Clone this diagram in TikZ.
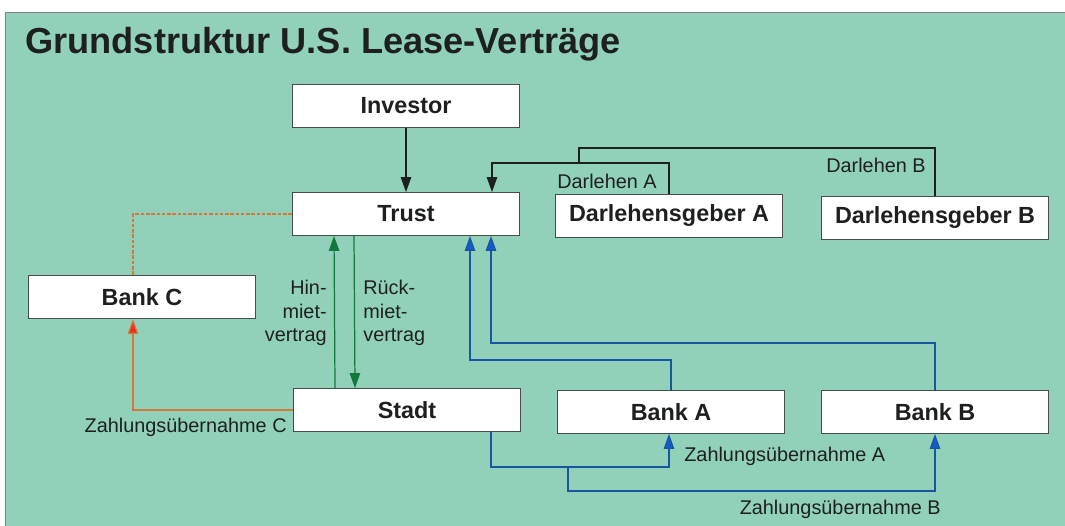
\documentclass[tikz,border=0pt]{standalone}
\usepackage{fontspec}
\setmainfont{Liberation Sans}
\usepackage{xcolor}
\usetikzlibrary{arrows.meta}
\usetikzlibrary{positioning}
\tikzset{>={Triangle[length=3mm,width=2.1mm]}}

\definecolor{panel}{RGB}{146,209,185}
\definecolor{ink}{RGB}{30,32,32}
\definecolor{frame}{RGB}{70,75,75}
\definecolor{leaseorange}{RGB}{214,120,60}
\definecolor{leasered}{RGB}{232,50,30}
\definecolor{leasegreen}{RGB}{20,120,62}
\definecolor{leaseblue}{RGB}{25,85,160}
\definecolor{tipblue}{RGB}{20,90,200}

\begin{document}
\begin{tikzpicture}[
	x=0.02cm, y=-0.02cm,
	box/.style = {
		rectangle, draw=frame, fill=white, line width=0.8pt,
		minimum width=4.54cm, minimum height=0.85cm,
		font=\fontsize{13.3}{15}\selectfont\bfseries, text=ink
	},
	note/.style = {
		font=\fontsize{11.3}{13.4}\selectfont, text=ink, inner sep=0pt
	},
	loan/.style = {draw=ink, line width=0.6pt},
	lease/.style = {draw=leasegreen, line width=0.7pt},
	pay/.style = {draw=leaseblue, line width=0.7pt,
		-{Triangle[length=3mm,width=2.1mm,fill=tipblue]}},
	cover/.style = {draw=leaseorange, line width=0.7pt}
]
	\fill[white] (0, 0) rectangle (1065, 526);
	\useasboundingbox (0, 0) rectangle (1065, 526);
	\fill[panel] (5, 12) rectangle (1065, 526);
	\draw[frame!70, line width=0.5pt] (5, 526) -- (5, 12) -- (1065, 12);
	\node[anchor=base west, inner sep=0pt, text=ink,
		font=\fontsize{20.6}{24}\selectfont\bfseries] (title) at (25, 54)
		{Grundstruktur U.S. Lease-Verträge};
	% Boxes
	\node[box] (investor) at (406, 106) {Investor};
	\node[box] (trust) at (406, 214) {Trust};
	\node[box] (dga) at (669, 216) {Darlehensgeber A};
	\node[box] (dgb) at (935, 218) {Darlehensgeber B};
	\node[box] (bankc) at (142, 297) {Bank C};
	\node[box] (stadt) at (407, 410) {Stadt};
	\node[box] (banka) at (671, 412) {Bank A};
	\node[box] (bankb) at (935, 412) {Bank B};
	% Investor and loans
	\draw[loan, ->] (investor) -- (trust);
	\coordinate (loanA) at (492, 163);
	\coordinate (loanB) at (579, 163);
	\draw[loan, ->] (dga.north) |- (loanA) -- (loanA |- trust.north);
	\draw[loan] (dgb.north) |- ([yshift=0.3cm]loanB) -- (loanB);
	\node[note] (darlA) at (607, 181) {Darlehen A};
	\node[note] (darlB) at (876, 165) {Darlehen B};
	% Lease contracts
	\draw[lease, ->] ([xshift=-1.44cm]stadt.north) -- ([xshift=-1.44cm]trust.south);
	\draw[lease, ->] ([xshift=-1.04cm]trust.south) -- ([xshift=-1.04cm]stadt.north);
	\node[note, anchor=east, align=right] (hin) at (327, 313)
		{Hin-\\miet-\\vertrag};
	\node[note, anchor=west, align=left] (rueck) at (363, 313)
		{Rück-\\miet-\\vertrag};
	% Bank C
	\draw[cover, dash pattern=on 2pt off 1pt]
		(trust.west) -| ([xshift=-0.18cm]bankc.north);
	\draw[cover, -{Triangle[length=3mm,width=2.1mm,fill=leasered]}]
		(stadt.west) -| ([xshift=-0.18cm]bankc.south);
	\node[note, anchor=east] (zc) at (287, 427) {Zahlungsübernahme C};
	% Banks A and B to trust
	\coordinate (pa) at (470, 360);
	\coordinate (pb) at (491, 343);
	\draw[pay] (banka.north) |- (pa) -- (pa |- trust.south);
	\draw[pay] (bankb.north) |- (pb) -- (pb |- trust.south);
	% Stadt to banks A and B
	\coordinate (qa) at (491, 467);
	\coordinate (qb) at (568, 467);
	\draw[pay] (qa |- stadt.south) -- (qa) -| ([xshift=-0.04cm]banka.south);
	\draw[pay] (qb) -- ++(0, 24) -| (bankb.south);
	\node[note, anchor=west] (za) at (684, 456) {Zahlungsübernahme A};
	\node[note, anchor=east] (zb) at (941, 509) {Zahlungsübernahme B};
\end{tikzpicture}
\end{document}
